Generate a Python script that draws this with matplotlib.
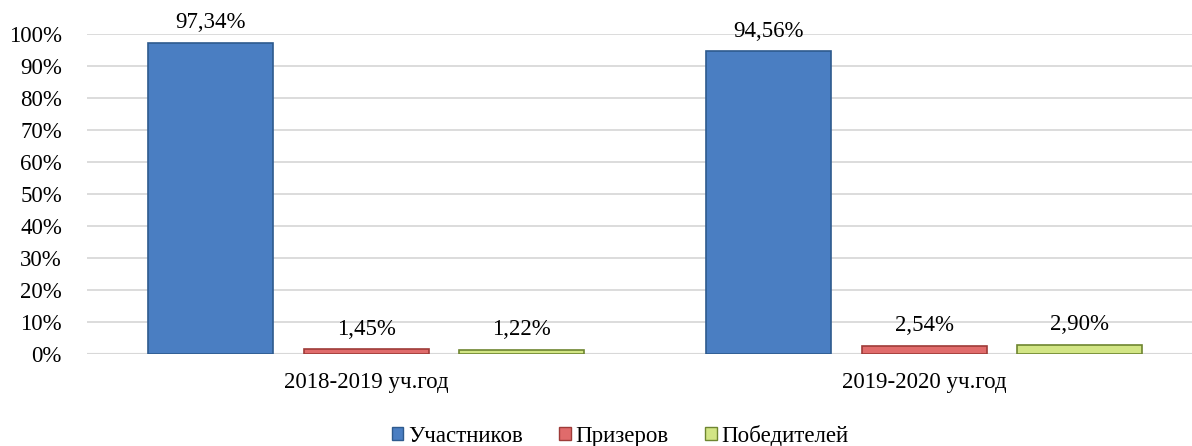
import matplotlib
matplotlib.use("Agg")
import matplotlib.pyplot as plt
import matplotlib.ticker as ticker
import numpy as np

plt.rcParams["font.family"] = ["Liberation Serif", "DejaVu Serif"]

years = ["2018-2019 уч.год", "2019-2020 уч.год"]
series = ["Участников", "Призеров", "Победителей"]
uchastnikov = [97.34, 94.56]
prizerov = [1.45, 2.54]
pobediteley = [1.22, 2.90]

colors = ["#4A7EC2", "#E06B6B", "#D2E585"]
edges = ["#2E5A8E", "#9E3B38", "#6E8530"]
FS = 16.5

fig = plt.figure(figsize=(11.92, 4.46), dpi=100)
ax = fig.add_axes([87 / 1192, 1 - 354 / 446, (1192 - 87) / 1192, 320 / 446])

x = np.arange(len(years))
width = 0.224
offsets = [-0.278, 0, 0.278]
for vals, off, c, e in zip([uchastnikov, prizerov, pobediteley], offsets, colors, edges):
    bars = ax.bar(x + off, vals, width, color=c, edgecolor=e, linewidth=1.2, zorder=3)
    for b, v in zip(bars, vals):
        ax.annotate(f"{v:.2f}%".replace(".", ","), (b.get_x() + b.get_width() / 2, v),
                    xytext=(0, 7), textcoords="offset points", ha="center", va="bottom",
                    fontsize=FS, zorder=4)

ax.set_xlim(-0.5, 1.48)
ax.set_ylim(0, 100)
ax.set_yticks(np.arange(0, 101, 10))
ax.yaxis.set_major_formatter(ticker.FuncFormatter(lambda v, _: f"{v:.0f}%"))
ax.set_xticks(x)
ax.set_xticklabels(years)
ax.tick_params(axis="both", length=0, labelsize=FS)
ax.tick_params(axis="y", pad=18)
ax.tick_params(axis="x", pad=13)
ax.grid(axis="y", color="#D9D9D9", linewidth=1.3, zorder=0)
for s in ax.spines.values():
    s.set_visible(False)
ax.axhline(0, color="#D0D0D0", linewidth=1.5, zorder=1)

handles = [plt.Rectangle((0, 0), 1, 1, facecolor=c, edgecolor=e) for c, e in zip(colors, edges)]
fig.legend(handles, series, loc="center", bbox_to_anchor=(620 / 1192, 1 - 436 / 446), ncol=3,
           frameon=False, fontsize=FS, handlelength=0.5, handleheight=0.5,
           handletextpad=0.2, columnspacing=1.6)

plt.savefig("out.png", dpi=100)
